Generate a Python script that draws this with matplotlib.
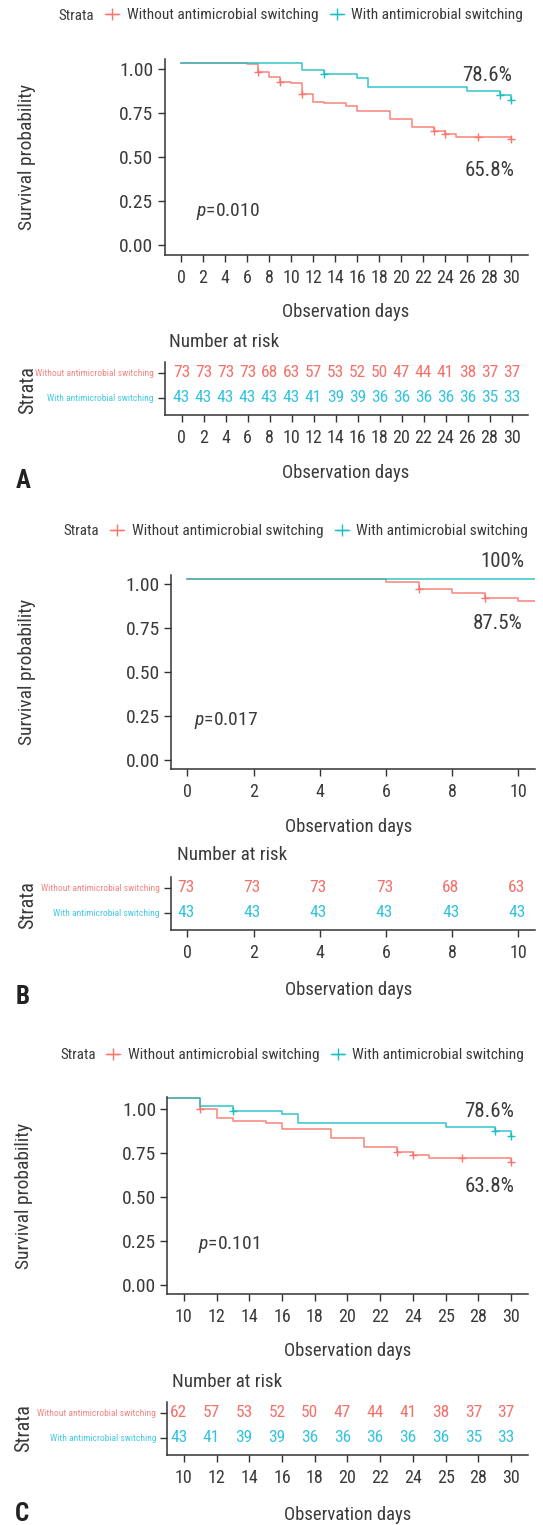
import matplotlib
matplotlib.use('Agg')
import matplotlib.pyplot as plt
from matplotlib import font_manager as fm
from matplotlib.lines import Line2D
import matplotlib.transforms as mtransforms

W, H = 543, 1525
names = {f.name for f in fm.fontManager.ttflist}
FONT = next((n for n in ['Liberation Sans Narrow', 'Roboto Condensed', 'Liberation Sans', 'Roboto']
             if n in names), 'DejaVu Sans')
plt.rcParams['font.family'] = [FONT, 'DejaVu Sans']
plt.rcParams['mathtext.fontset'] = 'custom'
plt.rcParams['mathtext.it'] = FONT + ':italic'
plt.rcParams['mathtext.rm'] = FONT

# ---------------- data ----------------
strata = ['Without antimicrobial switching', 'With antimicrobial switching']
curve_colors = ['#F8766D', '#1DBEC2']
num_colors = ['#F4706A', '#33C3DC']
lab_colors = ['#F28683', '#45C9E2']

# Panel A: 0-30 days
a_red_time = [0, 6, 7, 8, 9, 10, 11, 12, 13, 15, 16, 19, 21, 23, 24, 25, 30]
a_red_surv = [1.037, 1.028, 0.983, 0.958, 0.926, 0.920, 0.860, 0.816, 0.807, 0.791,
              0.765, 0.718, 0.674, 0.646, 0.632, 0.617, 0.602]
a_red_censor = [7, 9, 11, 23, 24, 27, 30]
a_teal_time = [0, 11, 13, 16, 17, 26, 29, 30]
a_teal_surv = [1.037, 0.996, 0.972, 0.952, 0.898, 0.875, 0.852, 0.825]
a_teal_censor = [13, 29, 30]
a_ticks = [0, 2, 4, 6, 8, 10, 12, 14, 16, 18, 20, 22, 24, 26, 28, 30]
a_ticklabels = ['0', '2', '4', '6', '8', '10', '12', '14', '16', '18', '20', '22', '24', '26', '28', '30']
a_risk_red = [73, 73, 73, 73, 68, 63, 57, 53, 52, 50, 47, 44, 41, 38, 37, 37]
a_risk_teal = [43, 43, 43, 43, 43, 43, 41, 39, 39, 36, 36, 36, 36, 36, 35, 33]
a_end_labels = ['65.8%', '78.6%']
a_pvalue = '0.010'

# Panel B: 0-10 days
b_red_time = [0, 6, 7, 8, 9, 10, 30]
b_red_surv = [1.027, 1.013, 0.972, 0.947, 0.918, 0.905, 0.905]
b_red_censor = [7, 9]
b_teal_time = [0, 30]
b_teal_surv = [1.027, 1.027]
b_teal_censor = []
b_ticks = [0, 2, 4, 6, 8, 10]
b_ticklabels = ['0', '2', '4', '6', '8', '10']
b_risk_red = [73, 73, 73, 73, 68, 63]
b_risk_teal = [43, 43, 43, 43, 43, 43]
b_end_labels = ['87.5%', '100%']
b_pvalue = '0.017'

# Panel C: 10-30 days
c_red_time = [9, 11, 12, 13, 15, 16, 19, 21, 23, 24, 25, 30]
c_red_surv = [1.063, 1.000, 0.952, 0.935, 0.920, 0.888, 0.838, 0.787, 0.757, 0.738, 0.721, 0.700]
c_red_censor = [11, 23, 24, 27, 30]
c_teal_time = [9, 11, 13, 16, 17, 26, 29, 30]
c_teal_surv = [1.063, 1.019, 0.992, 0.973, 0.924, 0.901, 0.875, 0.848]
c_teal_censor = [13, 29, 30]
c_ticks = [10, 12, 14, 16, 18, 20, 22, 24, 26, 28, 30]
c_ticklabels = ['10', '12', '14', '16', '18', '20', '22', '24', '25', '28', '30']
c_risk_red = [62, 57, 53, 52, 50, 47, 44, 41, 38, 37, 37]
c_risk_teal = [43, 41, 39, 39, 36, 36, 36, 36, 36, 35, 33]
c_end_labels = ['63.8%', '78.6%']
c_pvalue = '0.101'

y_ticks = [0, 0.25, 0.5, 0.75, 1.0]
y_ticklabels = ['0.00', '0.25', '0.50', '0.75', '1.00']

# ---------------- helpers ----------------
TXT = '#3a3a3a'
AXC = '#333333'

fig = plt.figure(figsize=(W / 100, H / 100), dpi=100)


def fpos(x, y):
    return (x / W, 1 - y / H)


def add_axes_px(l, t, r, b):
    return fig.add_axes([l / W, 1 - b / H, (r - l) / W, (b - t) / H])


def step_value(times, surv, t):
    v = surv[0]
    for ti, si in zip(times, surv):
        if ti <= t:
            v = si
    return v


def style_axes(ax):
    for s in ['top', 'right']:
        ax.spines[s].set_visible(False)
    for s in ['left', 'bottom']:
        ax.spines[s].set_color(AXC)
        ax.spines[s].set_linewidth(1.1)
    ax.tick_params(colors=AXC, length=5, width=1.0, labelcolor=TXT)
    ax.set_facecolor('none')


def panel(c):
    # legend
    fig.text(*fpos(c['strata_x'], c['legend_y']), 'Strata', ha='left', va='center',
             fontsize=10.8, color=TXT)
    handles = [Line2D([], [], color=col, marker='+', ms=8, mew=1.0, lw=1.0) for col in curve_colors]
    fig.legend(handles, strata, loc='center left', bbox_to_anchor=fpos(c['legend_x'], c['legend_y']),
               ncol=2, frameon=False, fontsize=11.1, handlelength=0.9, handletextpad=0.5,
               columnspacing=0.75, borderpad=0, borderaxespad=0, labelcolor=TXT)

    # survival curves
    ax = add_axes_px(*c['main_box'])
    style_axes(ax)
    for (tt, ss, cens), col in zip(c['curves'], curve_colors):
        ax.step(tt, ss, where='post', color=col, lw=1.1, alpha=0.9)
        ax.plot(cens, [step_value(tt, ss, t) for t in cens], ls='none', marker='+',
                ms=6, mew=1.0, color=col)
    ax.set_xlim(*c['xlim'])
    ax.set_ylim(*c['ylim'])
    ax.set_xticks(c['ticks'])
    ax.set_xticklabels(c['ticklabels'])
    ax.set_yticks(y_ticks)
    ax.set_yticklabels(y_ticklabels)
    ax.tick_params(axis='x', labelsize=13, pad=5)
    ax.tick_params(axis='y', labelsize=14, pad=3)
    ax.set_xlabel('Observation days', fontsize=13.4, color=TXT, va='center')
    ax.xaxis.set_label_coords(*fpos(c['xlabel_x'], c['xlabel_y']), transform=fig.transFigure)
    ax.set_ylabel('Survival probability', fontsize=14, color=TXT, va='center')
    ax.yaxis.set_label_coords(*fpos(c['ylabel_x'], c['ylabel_y']), transform=fig.transFigure)
    for lab, (x, y) in zip(c['end_labels'], c['end_pos']):
        ax.text(x, y, lab, ha='right', va='center', fontsize=15, color=TXT, clip_on=False)
    ax.text(*c['p_pos'], r'$p$=' + c['pvalue'], ha='left', va='center', fontsize=14, color=TXT)

    # risk table
    fig.text(*fpos(c['nar_x'], c['nar_y']), 'Number at risk', ha='left', va='center',
             fontsize=13.7, color=TXT)
    rt = add_axes_px(*c['risk_box'])
    style_axes(rt)
    rt.set_xlim(*c['xlim'])
    rt.set_ylim(0.3, 2.45)
    off = mtransforms.ScaledTranslation(c['num_dx'] / 100, 0, fig.dpi_scale_trans)
    for row, vals, col in [(2, c['risk'][0], num_colors[0]), (1, c['risk'][1], num_colors[1])]:
        for t, n in zip(c['ticks'], vals):
            rt.text(t, row, str(n), ha='center', va='center', fontsize=12.5, color=col,
                    transform=rt.transData + off)
    rt.set_xticks(c['ticks'])
    rt.set_xticklabels(c['ticklabels'])
    rt.set_yticks([2, 1])
    rt.set_yticklabels(strata, fontsize=6.8)
    for lab, col in zip(rt.get_yticklabels(), lab_colors):
        lab.set_color(col)
    rt.tick_params(axis='x', labelsize=13, pad=5)
    rt.tick_params(axis='y', pad=3)
    rt.set_xlabel('Observation days', fontsize=13.4, color=TXT, va='center')
    rt.xaxis.set_label_coords(*fpos(c['xlabel_x'], c['rxlabel_y']), transform=fig.transFigure)
    rt.set_ylabel('Strata', fontsize=14.5, color=TXT, va='center')
    rt.yaxis.set_label_coords(*fpos(c['ylabel_x'], c['strata_y']), transform=fig.transFigure)

    fig.text(*fpos(c['letter_x'], c['letter_y']), c['letter'], ha='left', va='center',
             fontsize=18, fontweight='bold', color='#222222')


panel(dict(
    strata_x=58, legend_x=105, legend_y=15.5,
    main_box=(164.5, 59.3, 528, 255.3), xlim=(-1.5, 31.5), ylim=(-0.059, 1.057),
    curves=[(a_red_time, a_red_surv, a_red_censor), (a_teal_time, a_teal_surv, a_teal_censor)],
    ticks=a_ticks, ticklabels=a_ticklabels,
    xlabel_x=346, xlabel_y=311.7, ylabel_x=27.5, ylabel_y=157,
    end_labels=a_end_labels, end_pos=[(30.3, 0.421), (30.05, 0.962)],
    pvalue=a_pvalue, p_pos=(1.36, 0.188),
    nar_x=169, nar_y=341.7, risk_box=(165, 361.7, 528, 415),
    risk=(a_risk_red, a_risk_teal), num_dx=0,
    rxlabel_y=473.3, strata_y=390,
    letter='A', letter_x=16, letter_y=481))

panel(dict(
    strata_x=63.5, legend_x=110, legend_y=531,
    main_box=(170.8, 575, 535, 769.3), xlim=(-0.5, 10.5), ylim=(-0.053, 1.051),
    curves=[(b_red_time, b_red_surv, b_red_censor), (b_teal_time, b_teal_surv, b_teal_censor)],
    ticks=b_ticks, ticklabels=b_ticklabels,
    xlabel_x=349, xlabel_y=826.7, ylabel_x=27.5, ylabel_y=672,
    end_labels=b_end_labels, end_pos=[(10.11, 0.777), (10.17, 1.127)],
    pvalue=b_pvalue, p_pos=(0.2, 0.227),
    nar_x=177, nar_y=855, risk_box=(170.8, 876.7, 535, 930),
    risk=(b_risk_red, b_risk_teal), num_dx=-1.5,
    rxlabel_y=990, strata_y=905,
    letter='B', letter_x=16, letter_y=997))

panel(dict(
    strata_x=60, legend_x=106, legend_y=1055,
    main_box=(167.4, 1096.7, 527.5, 1294.3), xlim=(9, 31), ylim=(-0.053, 1.072),
    curves=[(c_red_time, c_red_surv, c_red_censor), (c_teal_time, c_teal_surv, c_teal_censor)],
    ticks=c_ticks, ticklabels=c_ticklabels,
    xlabel_x=348, xlabel_y=1351, ylabel_x=24, ylabel_y=1195.5,
    end_labels=c_end_labels, end_pos=[(30.18, 0.56), (30.18, 0.99)],
    pvalue=c_pvalue, p_pos=(10.9, 0.228),
    nar_x=172, nar_y=1381.7, risk_box=(167.4, 1401.7, 527.5, 1455),
    risk=(c_risk_red, c_risk_teal), num_dx=-5,
    rxlabel_y=1515, strata_y=1428,
    letter='C', letter_x=15, letter_y=1514))

fig.savefig('out.png', dpi=100)
